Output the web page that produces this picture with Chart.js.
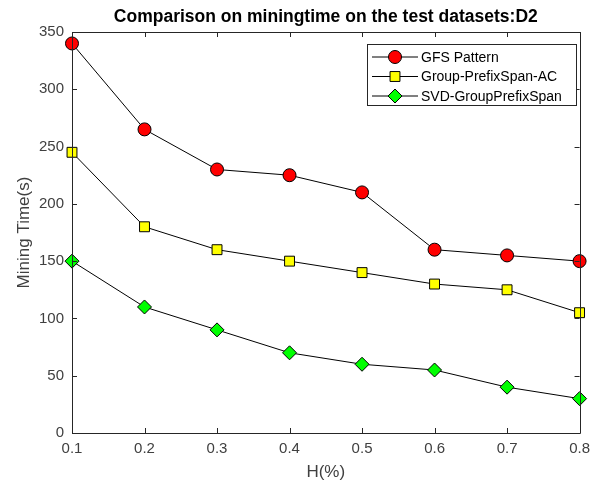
<!DOCTYPE html>
<html>
<head>
<meta charset="utf-8">
<script src="https://cdn.jsdelivr.net/npm/chart.js@4/dist/chart.umd.min.js"></script>
<style>
html,body{margin:0;padding:0;background:#fff;}
#wrap{width:597px;height:486px;}
</style>
</head>
<body>
<div id="wrap"><canvas id="c" width="597" height="486"></canvas></div>
<script>
const xValues = [0.1, 0.2, 0.3, 0.4, 0.5, 0.6, 0.7, 0.8];
const gfsPattern = [340, 265, 230, 225, 210, 160, 155, 150];
const groupPrefixSpanAC = [245, 180, 160, 150, 140, 130, 125, 105];
const svdGroupPrefixSpan = [150, 110, 90, 70, 60, 55, 40, 30];
const seriesLabels = ['GFS Pattern', 'Group-PrefixSpan-AC', 'SVD-GroupPrefixSpan'];
const titleText = 'Comparison on miningtime on the test datasets:D2';
const xTitle = 'H(%)';
const yTitle = 'Mining Time(s)';

const FONT = 'Arial, "Liberation Sans", Helvetica, sans-serif';

function pts(arr){ return arr.map((v,i)=>({x:xValues[i], y:v})); }

const framePlugin = {
  id: 'frame',
  afterDatasetsDraw(chart) {
    const ctx = chart.ctx, a = chart.chartArea;
    const xs = chart.scales.x, ys = chart.scales.y;
    ctx.save();
    ctx.strokeStyle = '#262626';
    ctx.lineWidth = 1;
    ctx.beginPath();
    ctx.rect(Math.round(a.left)+0.5, Math.round(a.top)+0.5, Math.round(a.right-a.left), Math.round(a.bottom-a.top));
    ctx.stroke();
    const tl = 5;
    ctx.beginPath();
    xs.ticks.forEach(t => {
      const px = Math.round(xs.getPixelForValue(t.value)) + 0.5;
      ctx.moveTo(px, a.bottom); ctx.lineTo(px, a.bottom - tl);
      ctx.moveTo(px, a.top); ctx.lineTo(px, a.top + tl);
    });
    ys.ticks.forEach(t => {
      const py = Math.round(ys.getPixelForValue(t.value)) + 0.5;
      ctx.moveTo(a.left, py); ctx.lineTo(a.left + tl, py);
      ctx.moveTo(a.right, py); ctx.lineTo(a.right - tl, py);
    });
    ctx.stroke();

    // legend
    const lx = 367.5, ly = 44.5, lw = 209, lh = 61;
    ctx.fillStyle = '#fff';
    ctx.fillRect(lx, ly, lw, lh);
    ctx.strokeStyle = '#262626';
    ctx.strokeRect(lx, ly, lw, lh);
    chart.data.datasets.forEach((ds, i) => {
      const cy = 57 + i * 19.5;
      ctx.strokeStyle = '#000';
      ctx.lineWidth = 1;
      ctx.beginPath();
      ctx.moveTo(372, cy); ctx.lineTo(418, cy);
      ctx.stroke();
      ctx.save();
      ctx.fillStyle = ds.pointBackgroundColor;
      ctx.strokeStyle = '#000';
      ctx.lineWidth = 1;
      Chart.helpers.drawPoint(ctx, {pointStyle: ds.pointStyle, radius: ds.pointRadius, rotation: 0, borderWidth: 1}, 395, cy);
      ctx.restore();
      ctx.fillStyle = '#000';
      ctx.font = '14px ' + FONT;
      ctx.textBaseline = 'middle';
      ctx.textAlign = 'left';
      ctx.fillText(ds.label, 421, cy + 1);
    });
    ctx.restore();
  }
};

new Chart(document.getElementById('c'), {
  type: 'line',
  data: {
    datasets: [
      { label: seriesLabels[0], data: pts(gfsPattern), borderColor: '#000', borderWidth: 1,
        pointStyle: 'circle', pointRadius: 6.5, pointBackgroundColor: '#ff0000', pointBorderColor: '#000', pointBorderWidth: 1 },
      { label: seriesLabels[1], data: pts(groupPrefixSpanAC), borderColor: '#000', borderWidth: 1,
        pointStyle: 'rect', pointRadius: 7, pointBackgroundColor: '#ffff00', pointBorderColor: '#000', pointBorderWidth: 1 },
      { label: seriesLabels[2], data: pts(svdGroupPrefixSpan), borderColor: '#000', borderWidth: 1,
        pointStyle: 'rectRot', pointRadius: 7, pointBackgroundColor: '#00ff00', pointBorderColor: '#000', pointBorderWidth: 1 }
    ]
  },
  options: {
    responsive: false,
    animation: false,
    events: [],
    clip: false,
    layout: { padding: { top: 0, right: 17, left: 0, bottom: 0 } },
    plugins: {
      legend: { display: false },
      tooltip: { enabled: false },
      title: {
        display: true, text: titleText, color: '#000', fullSize: false,
        font: { family: FONT, size: 17.5, weight: 'bold' },
        padding: { top: 6.5, bottom: 4.5 }
      }
    },
    scales: {
      x: {
        type: 'linear', min: 0.1, max: 0.8,
        afterBuildTicks(s) { s.ticks = xValues.map(v => ({value: v})); },
        afterFit(s) { s.height = 53; },
        grid: { display: false, drawTicks: false },
        border: { display: false },
        ticks: { color: '#404040', font: { family: FONT, size: 15 }, padding: 7,
          callback: v => Number(v).toFixed(1), maxRotation: 0, autoSkip: false },
        title: { display: true, text: xTitle, color: '#404040', font: { family: FONT, size: 17 }, padding: { top: 2, bottom: 3 } }
      },
      y: {
        min: 0, max: 350,
        ticks: { stepSize: 50, color: '#404040', font: { family: FONT, size: 15 }, padding: 8 },
        afterFit(s) { s.width = 72; },
        grid: { display: false, drawTicks: false },
        border: { display: false },
        title: { display: true, text: yTitle, color: '#404040', font: { family: FONT, size: 17 }, padding: { top: 14.5, bottom: 2 } }
      }
    }
  },
  plugins: [framePlugin]
});
</script>
</body>
</html>
